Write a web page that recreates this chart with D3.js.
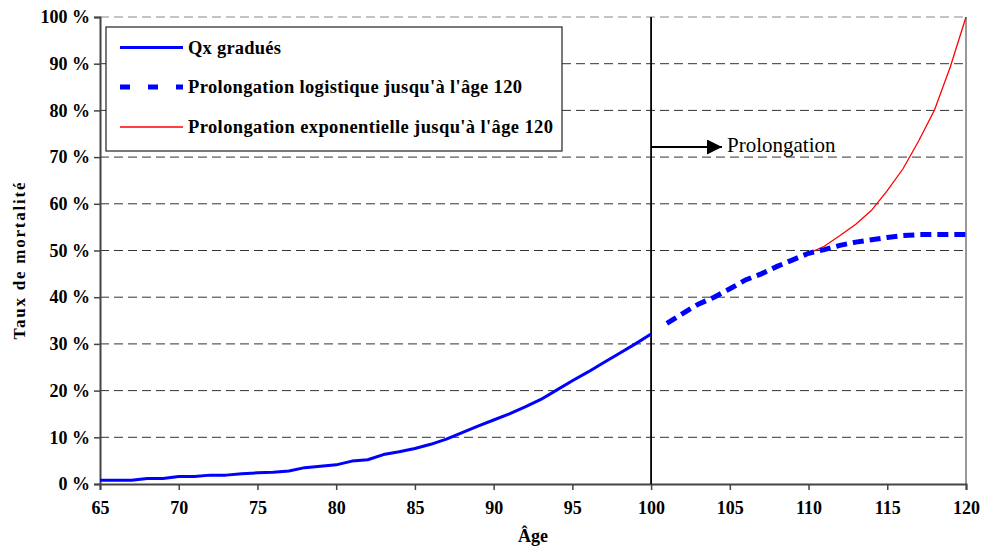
<!DOCTYPE html>
<html><head><meta charset="utf-8">
<script src="https://cdn.jsdelivr.net/npm/d3@7/dist/d3.min.js"></script>
<style>body{margin:0;background:#fff}svg{display:block}</style>
</head><body>
<svg id="c" width="983" height="548"></svg>
<script>
const qxAges = [65,66,67,68,69,70,71,72,73,74,75,76,77,78,79,80,81,82,83,84,85,86,87,88,89,90,91,92,93,94,95,96,97,98,99,100];
const qxValues = [0.8,0.8,0.8,1.2,1.2,1.6,1.6,1.9,1.9,2.2,2.4,2.5,2.8,3.5,3.8,4.1,4.9,5.2,6.3,6.9,7.6,8.5,9.6,11.0,12.4,13.7,15.0,16.5,18.1,20.1,22.1,24.0,26.0,28.0,30.0,32.1];
const logAges = [101,102,103,104,105,106,107,108,109,110,111,112,113,114,115,116,117,118,119,120];
const logValues = [34.4,36.5,38.5,40.0,41.8,43.7,45.0,46.6,48.0,49.4,50.2,51.1,51.8,52.3,52.8,53.2,53.4,53.4,53.4,53.4];
const expAges = [110,111,112,113,114,115,116,117,118,119,120];
const expValues = [49.4,50.9,53.2,55.6,58.6,62.8,67.5,73.5,80.1,89.3,100];
const xTicks = [65,70,75,80,85,90,95,100,105,110,115,120];
const yTicks = [0,10,20,30,40,50,60,70,80,90,100];
const legendLabels = ["Qx gradués","Prolongation logistique jusqu'à l'âge 120","Prolongation exponentielle jusqu'à l'âge 120"];

const svg = d3.select("#c");
const serif = "'Liberation Serif','Times New Roman',serif";
const x = d3.scaleLinear().domain([65,120]).range([100,966]);
const y = d3.scaleLinear().domain([0,100]).range([484,17]);

// gridlines
svg.append("g").selectAll("line").data(yTicks.filter(d=>d>0)).join("line")
  .attr("x1",x(65)).attr("x2",x(120)).attr("y1",d=>y(d)).attr("y2",d=>y(d))
  .attr("stroke",d=>d===100?"#888":"#333").attr("stroke-width",1).attr("stroke-dasharray","9,5");

// right frame
svg.append("line").attr("x1",x(120)).attr("x2",x(120)).attr("y1",y(100)).attr("y2",y(0))
  .attr("stroke","#999").attr("stroke-width",2);

// axes
const yAxis = svg.append("g").attr("transform",`translate(${x(65)},0)`)
  .call(d3.axisLeft(y).tickValues(yTicks).tickSize(6).tickPadding(4).tickFormat(d=>d+" %"));
const xAxis = svg.append("g").attr("transform",`translate(0,${y(0)})`)
  .call(d3.axisBottom(x).tickValues(xTicks).tickSize(6).tickPadding(13).tickFormat(d=>d));
[yAxis,xAxis].forEach(a=>{
  a.attr("font-size",18).attr("font-family",serif).attr("font-weight","bold");
  a.select(".domain").attr("stroke","#444").attr("stroke-width",2);
  a.selectAll(".tick line").attr("stroke","#444").attr("stroke-width",1.5);
  a.selectAll("text").attr("fill","#000");
});
xAxis.selectAll("text").attr("dy","0.6em");

// vertical line at 100
svg.append("line").attr("x1",x(100)).attr("x2",x(100)).attr("y1",y(100)).attr("y2",y(0))
  .attr("stroke","#000").attr("stroke-width",1.8);

const line = d3.line().x(d=>x(d[0])).y(d=>y(d[1]));
svg.append("path").datum(expAges.map((a,i)=>[a,expValues[i]])).attr("d",line)
  .attr("fill","none").attr("stroke","#ff0000").attr("stroke-width",1.3);
svg.append("path").datum(logAges.map((a,i)=>[a,logValues[i]])).attr("d",line)
  .attr("fill","none").attr("stroke","#0000ff").attr("stroke-width",5).attr("stroke-dasharray","11,6");
svg.append("path").datum(qxAges.map((a,i)=>[a,qxValues[i]])).attr("d",line)
  .attr("fill","none").attr("stroke","#0000ff").attr("stroke-width",3).attr("stroke-linejoin","round");

// arrow + label
svg.append("defs").append("marker").attr("id","ah").attr("viewBox","0 0 10 10").attr("refX",10).attr("refY",5)
  .attr("markerWidth",22).attr("markerHeight",15).attr("markerUnits","userSpaceOnUse").attr("orient","auto")
  .append("path").attr("d","M0,0L10,5L0,10Z").attr("fill","#000");
svg.append("line").attr("x1",x(100)).attr("x2",722).attr("y1",147).attr("y2",147)
  .attr("stroke","#000").attr("stroke-width",2).attr("marker-end","url(#ah)");
svg.append("text").attr("x",727).attr("y",152).attr("font-family",serif).attr("font-size",21).text("Prolongation");

// legend
const lg = svg.append("g");
lg.append("rect").attr("x",106).attr("y",27).attr("width",456).attr("height",124)
  .attr("fill","#fff").attr("stroke","#222").attr("stroke-width",1.2);
const rows=[47.5,87,127];
const widths=[93,334,365];
const styles=[{c:"#0000ff",w:3,d:null},{c:"#0000ff",w:5,d:"10,18"},{c:"#ff0000",w:1.3,d:null}];
rows.forEach((ry,i)=>{
  lg.append("line").attr("x1",120).attr("x2",183).attr("y1",ry).attr("y2",ry)
    .attr("stroke",styles[i].c).attr("stroke-width",styles[i].w).attr("stroke-dasharray",styles[i].d);
  lg.append("text").attr("x",188).attr("y",ry+6).attr("font-family",serif).attr("font-weight","bold")
    .attr("font-size",18.5).attr("textLength",widths[i]).attr("lengthAdjust","spacing").text(legendLabels[i]);
});

// axis titles
svg.append("text").attr("transform","translate(25,261) rotate(-90)").attr("text-anchor","middle")
  .attr("font-family",serif).attr("font-weight","bold").attr("font-size",17)
  .attr("textLength",157).attr("lengthAdjust","spacing").text("Taux de mortalité");
svg.append("text").attr("x",533).attr("y",542).attr("text-anchor","middle")
  .attr("font-family",serif).attr("font-weight","bold").attr("font-size",18).text("Âge");
</script>
</body></html>
